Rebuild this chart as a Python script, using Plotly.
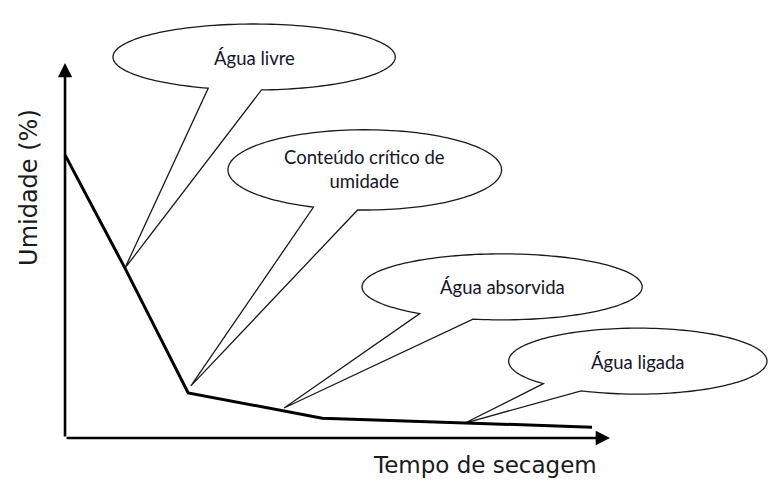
import numpy as np
import plotly.graph_objects as go

# ---- data (arbitrary units: drying time vs moisture %) ----
tempo = [0.0, 11.0, 22.6, 47.2, 96.7]
umidade = [75.5, 45.3, 12.0, 5.3, 2.9]

# callout labels and the point of the curve each one points to
rotulos = ["Água livre", "Conteúdo crítico de<br>umidade", "Água absorvida", "Água ligada"]
alvo_x = [11.0, 23.1, 40.2, 73.4]
alvo_y = [45.3, 13.9, 8.0, 4.0]

eixo_x_titulo = "Tempo de secagem"
eixo_y_titulo = "Umidade (%)"

# ---- callout geometry (layout/style) ----
# centre x, centre y, radius x, radius y, wedge angles (deg, screen y-down)
baloes = [
    dict(cx=34.7, cy=101.6, rx=25.9, ry=8.8, a1=87, a2=109),
    dict(cx=55.0, cy=71.5, rx=25.1, ry=10.7, a1=93, a2=112),
    dict(cx=80.2, cy=40.3, rx=25.7, ry=8.8, a1=102, a2=126),
    dict(cx=105.1, cy=20.5, rx=23.7, ry=8.8, a1=116, a2=137),
]
texto_dy = [-0.3, 0.3, 0.0, -0.2]

fig = go.Figure()

shapes = []
annotations = []
for b, tx, ty, lab, dy in zip(baloes, alvo_x, alvo_y, rotulos, texto_dy):
    t = np.radians(np.linspace(b["a2"], b["a1"] + 360, 160))
    xs = b["cx"] + b["rx"] * np.cos(t)
    ys = b["cy"] - b["ry"] * np.sin(t)
    path = "M {:.3f},{:.3f} ".format(xs[0], ys[0])
    path += " ".join("L {:.3f},{:.3f}".format(x, y) for x, y in zip(xs[1:], ys[1:]))
    path += " L {:.3f},{:.3f} Z".format(tx, ty)
    shapes.append(dict(type="path", path=path, xref="x", yref="y",
                       line=dict(color="#1a1a1a", width=1.3),
                       fillcolor="white", layer="below"))
    annotations.append(dict(x=b["cx"], y=b["cy"] + dy, xref="x", yref="y",
                            text=lab, showarrow=False,
                            font=dict(family="Lato", size=18.5, color="#15152a")))

fig.add_trace(go.Scatter(x=tempo, y=umidade, mode="lines",
                         line=dict(color="black", width=3),
                         hoverinfo="skip", showlegend=False))

# axes with arrows
annotations.append(dict(x=100, y=0, ax=0, ay=0, xref="x", yref="y", axref="x", ayref="y",
                        text="", showarrow=True, arrowhead=2, arrowsize=1.1,
                        arrowwidth=2.6, arrowcolor="black", standoff=0))
annotations.append(dict(x=0, y=100, ax=0, ay=0, xref="x", yref="y", axref="x", ayref="y",
                        text="", showarrow=True, arrowhead=2, arrowsize=1.1,
                        arrowwidth=2.6, arrowcolor="black", standoff=0))

annotations.append(dict(x=77.1, y=-7.2, xref="x", yref="y", text=eixo_x_titulo,
                        showarrow=False,
                        font=dict(family="DejaVu Sans", size=23, color="#1a1a1a")))
annotations.append(dict(x=-6.6, y=66.7, xref="x", yref="y", text=eixo_y_titulo,
                        showarrow=False, textangle=-90,
                        font=dict(family="DejaVu Sans", size=24, color="#1a1a1a")))

fig.update_layout(
    width=774, height=497,
    margin=dict(l=0, r=0, t=0, b=0),
    paper_bgcolor="white", plot_bgcolor="white",
    xaxis=dict(range=[-11.93, 130.09], visible=False, fixedrange=True),
    yaxis=dict(range=[-15.73, 116.8], visible=False, fixedrange=True),
    shapes=shapes,
    annotations=annotations,
    showlegend=False,
)

fig.write_html("out.html",
               config={"displayModeBar": False},
               post_script="document.body.style.margin='0';document.body.style.overflow='hidden';")
